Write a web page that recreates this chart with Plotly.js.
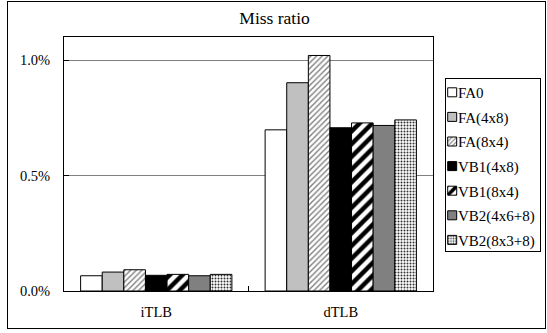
<!DOCTYPE html>
<html><head><meta charset="utf-8">
<script src="https://cdn.plot.ly/plotly-3.0.1.min.js"></script>
<style>body{margin:0;background:#fff}#wrap{position:relative;width:547px;height:333px}#chart{width:547px;height:333px}
#frame{position:absolute;left:7px;top:1px;width:537px;height:326px;border:1px solid #000;pointer-events:none}</style>
</head><body><div id="wrap"><div id="chart"></div><div id="frame"></div></div>
<script>
const categories = ['iTLB', 'dTLB'];
const seriesNames = ['FA0', 'FA(4x8)', 'FA(8x4)', 'VB1(4x8)', 'VB1(8x4)', 'VB2(4x6+8)', 'VB2(8x3+8)'];
const FA0 = [0.066, 0.698];
const FA_4x8 = [0.082, 0.902];
const FA_8x4 = [0.092, 1.020];
const VB1_4x8 = [0.068, 0.707];
const VB1_8x4 = [0.072, 0.728];
const VB2_4x6_8 = [0.066, 0.717];
const VB2_8x3_8 = [0.072, 0.741];
const seriesValues = [FA0, FA_4x8, FA_8x4, VB1_4x8, VB1_8x4, VB2_4x6_8, VB2_8x3_8];

const styles = [
  {color: '#ffffff'},
  {color: '#c0c0c0'},
  {color: '#ffffff', pattern: {shape: '/', fgcolor: '#808080', bgcolor: '#ffffff', size: 4, solidity: 0.35}},
  {color: '#000000'},
  {color: '#ffffff', pattern: {shape: '/', fgcolor: '#000000', bgcolor: '#ffffff', size: 9, solidity: 0.5}},
  {color: '#808080'},
  {color: '#ffffff', pattern: {shape: '.', fgcolor: '#303030', bgcolor: '#ffffff', size: 3, solidity: 0.35}}
];

const traces = seriesNames.map((name, i) => ({
  type: 'bar', name: name, x: categories, y: seriesValues[i],
  marker: Object.assign({line: {color: '#000000', width: 1}}, styles[i])
}));

const font = 'Liberation Serif';
const layout = {
  width: 547, height: 333,
  margin: {l: 64, r: 114, t: 37, b: 42, autoexpand: false},
  paper_bgcolor: '#ffffff', plot_bgcolor: '#ffffff',
  font: {family: font, size: 14.5, color: '#000000'},
  title: {text: 'Miss ratio', font: {family: font, size: 17.5, color: '#000'}, x: 0.502, xref: 'container', xanchor: 'center', y: 0.945, yanchor: 'middle'},
  barmode: 'group', bargap: 0.18, bargroupgap: 0,
  showlegend: true,
  legend: {xref: 'container', yref: 'container', x: 0.8135, xanchor: 'left', y: 0.7658, yanchor: 'top',
           bordercolor: '#000', borderwidth: 1, bgcolor: '#fff',
           font: {family: font, size: 15}, traceorder: 'normal', itemwidth: 30},
  xaxis: {type: 'category', showline: true, linecolor: '#000', linewidth: 1, mirror: true,
          ticks: 'inside', tickson: 'boundaries', ticklen: 5, tickcolor: '#000', ticklabelstandoff: 8,
          tickfont: {family: font, size: 14.5}, showgrid: false},
  yaxis: {range: [0, 1.1], dtick: 0.5, tick0: 0, tickformat: '.1f', ticksuffix: '%',
          showline: true, linecolor: '#000', linewidth: 1, mirror: true,
          ticks: 'inside', ticklen: 5, tickcolor: '#000', ticklabelstandoff: 10,
          showgrid: true, gridcolor: '#808080', gridwidth: 1, zeroline: false,
          tickfont: {family: font, size: 14.5}}
};

// compact legend layout (Excel-like): small symbol, tight text, fixed spacing
function compactLegend(gd) {
  const leg = gd.querySelector('.legend');
  if (!leg) return;
  leg.querySelectorAll('[clip-path]').forEach(el => el.removeAttribute('clip-path'));
  if (leg.hasAttribute('clip-path')) leg.removeAttribute('clip-path');
  const bg = leg.querySelector('rect.bg');
  const LEFT = 445, TOP = 78, W = 95, H = 173, SYM_CX = 7.2, TXT_X = 13, ROW0 = 92.3, ROW = 24.6;
  let r = bg.getBoundingClientRect();
  leg.setAttribute('transform', `translate(${LEFT - r.left},${TOP - r.top}) ` + (leg.getAttribute('transform') || ''));
  bg.setAttribute('width', W);
  bg.setAttribute('height', H);
  const items = leg.querySelectorAll('g.traces');
  items.forEach((item, i) => {
    item.querySelectorAll('.legendpoints path').forEach(p => p.setAttribute('d', 'M4.5,4.5H-4.5V-4.5H4.5Z'));
    const layers = item.querySelector('.layers') || item.querySelector('.legendpoints');
    let lr = layers.getBoundingClientRect();
    const dx = (LEFT + SYM_CX) - (lr.left + lr.width / 2);
    const dy = (ROW0 + ROW * i) - (lr.top + lr.height / 2);
    item.setAttribute('transform', `translate(0,${dy}) ` + (item.getAttribute('transform') || ''));
    layers.setAttribute('transform', `translate(${dx},0) ` + (layers.getAttribute('transform') || ''));
    const txt = item.querySelector('text.legendtext');
    const tr = txt.getBoundingClientRect();
    const x0 = parseFloat(txt.getAttribute('x') || '0');
    const nx = x0 + (LEFT + TXT_X) - tr.left;
    txt.setAttribute('x', nx);
    txt.querySelectorAll('tspan[x]').forEach(t => t.setAttribute('x', nx));
  });
}

Plotly.newPlot('chart', traces, layout, {displayModeBar: false, staticPlot: true}).then(gd => compactLegend(gd));
</script></body></html>
